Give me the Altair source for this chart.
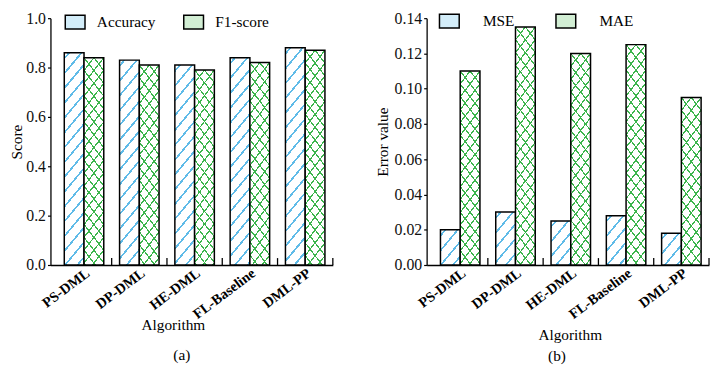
import math
import altair as alt
import pandas as pd

# ---------------- data ----------------
algorithms = ["PS-DML", "DP-DML", "HE-DML", "FL-Baseline", "DML-PP"]
metrics_a = ["Accuracy", "F1-score"]
accuracy = [0.86, 0.83, 0.81, 0.84, 0.88]
f1_score = [0.84, 0.81, 0.79, 0.82, 0.87]
metrics_b = ["MSE", "MAE"]
mse = [0.020, 0.030, 0.025, 0.028, 0.018]
mae = [0.110, 0.135, 0.120, 0.125, 0.095]
ticks_a = [0.0, 0.2, 0.4, 0.6, 0.8, 1.0]
ticks_b = [0.00, 0.02, 0.04, 0.06, 0.08, 0.10, 0.12, 0.14]

# ---------------- style ----------------
FONT = "Liberation Serif"
PW, PH = 286, 250
STEP = 56
BAR_W = 20
BLUE = "#5fbbe8"
GREEN = "#3bb54c"
CLEAR = "rgba(255,255,255,0)"


def hatch(W, H, m, period, lw, color, bg, direction, phase):
    """Linear gradient with hard stops that draws diagonal hatch lines."""
    H = max(H, 1.0)
    S = H + m * W
    k = S / (m * m * W * W + H * H)
    if direction == "/":
        x1, y1, x2, y2 = 0.0, 0.0, m * W * k, H * k
    else:
        x1, y1, x2, y2 = 1.0, 0.0, 1.0 - m * W * k, H * k
    sw = lw * math.sqrt(1 + m * m)
    stops = [(0.0, bg)]
    c = phase
    while c - sw / 2 < S:
        a = max(0.0, (c - sw / 2) / S)
        b = min(1.0, (c + sw / 2) / S)
        if b > 0:
            stops += [(a, bg), (a, color), (b, color), (b, bg)]
        c += period
    stops.append((1.0, bg))
    return alt.LinearGradient(
        gradient="linear",
        x1=round(x1, 5), y1=round(y1, 5), x2=round(x2, 5), y2=round(y2, 5),
        stops=[alt.GradientStop(offset=round(o, 5), color=col) for o, col in stops],
    )


def panel(metrics, series, kinds, ymax, ticks, fmt, ytitle, ytitle_pad,
          leg_x, leg_y, leg_off, leg_pad, xtitle_x, xtitle_y, cap, cap_dx, cap_off):
    rows = [
        {"alg": a, "metric": mt, "value": v}
        for mt, vals in zip(metrics, series)
        for a, v in zip(algorithms, vals)
    ]
    df = pd.DataFrame(rows)
    n = len(algorithms)
    xscale = alt.Scale(domain=algorithms, paddingInner=0,
                       paddingOuter=(PW / STEP - n) / 2, align=1)
    xaxis = alt.Axis(
        ticks=False, tickSize=0, domainColor="black", domainWidth=1.3,
        labelAngle=323, labelAlign="right", labelBaseline="top",
        labelFont=FONT, labelFontSize=14.5, labelFontWeight="bold",
        labelColor="black", labelPadding=1, labelOffset=0,
        titleFont=FONT, titleFontSize=15.5, titleFontWeight="normal",
        titleColor="black", titleX=xtitle_x, titleY=xtitle_y,
        titleBaseline="top", grid=False,
    )
    x = alt.X("alg:N", scale=xscale, axis=xaxis, title="Algorithm")
    xo = alt.XOffset("metric:N", scale=alt.Scale(domain=metrics, paddingInner=0,
                                                   paddingOuter=0.4))
    yaxis = alt.Axis(
        values=ticks, format=fmt, grid=False, tickSize=3, tickColor="black",
        domainColor="black", domainWidth=1.3, tickWidth=1.2,
        labelFont=FONT, labelFontSize=16, labelColor="#111", labelPadding=2,
        titleFont=FONT, titleFontSize=15.5, titleFontWeight="normal",
        titleColor="black", titlePadding=ytitle_pad,
    )
    y = alt.Y("value:Q", scale=alt.Scale(domain=[0, ymax], nice=False, zero=True),
              axis=yaxis, title=ytitle)

    legend = alt.Legend(
        title=None, orient="none", legendX=leg_x, legendY=leg_y, padding=0,
        direction="horizontal", symbolType="M-1,-0.7H1V0.7H-1Z", symbolSize=400,
        symbolStrokeColor="black", symbolStrokeWidth=1.5, symbolOpacity=1,
        labelFont=FONT, labelFontSize=15.5, labelColor="black",
        labelOffset=leg_off, columnPadding=leg_pad,
    )
    base = alt.Chart(df).mark_bar(strokeWidth=0).encode(
        x=x, xOffset=xo, y=y,
        color=alt.Color("metric:N",
                        scale=alt.Scale(domain=metrics, range=["#d3edf9", "#d2eed4"]),
                        legend=legend),
    )
    layers = [base]
    for mt, vals, kind in zip(metrics, series, kinds):
        for a, v in zip(algorithms, vals):
            H = v / ymax * PH
            sel = alt.Chart(df).transform_filter(
                (alt.datum.alg == a) & (alt.datum.metric == mt))
            if kind == "stripe":
                g = hatch(BAR_W, H, 1.2, 15, 1.7, BLUE, "white", "/", 6)
                layers.append(sel.mark_bar(fill=g, stroke="black", strokeWidth=1.5)
                              .encode(x=x, xOffset=xo, y=y))
            else:
                g1 = hatch(BAR_W, H, 1.3, 13, 1.2, GREEN, "white", "/", 0)
                g2 = hatch(BAR_W, H, 1.3, 13, 1.2, GREEN, CLEAR, "\\", 0)
                layers.append(sel.mark_bar(fill=g1, strokeWidth=0)
                              .encode(x=x, xOffset=xo, y=y))
                layers.append(sel.mark_bar(fill=g2, stroke="black", strokeWidth=1.5)
                              .encode(x=x, xOffset=xo, y=y))

    tick_df = pd.DataFrame({"alg": algorithms})
    rule = alt.Chart(tick_df).mark_rule(color="black", strokeWidth=1.3).encode(
        x=alt.X("alg:N", bandPosition=1, scale=xscale, axis=xaxis, title="Algorithm"),
        y=alt.value(PH), y2=alt.value(PH - 7),
    )
    layers.append(rule)
    return alt.layer(*layers).properties(
        width=PW, height=PH,
        title=alt.TitleParams(cap, orient="bottom", frame="group", dx=cap_dx,
                              offset=cap_off, font=FONT, fontSize=15.5,
                              fontWeight="normal", color="black"),
    )


left = panel(metrics_a, [accuracy, f1_score], ["stripe", "cross"], 1.0, ticks_a,
             ".1f", "Score", 1, 14, -7, 11, 25, 124, 53, "(a)", -10, 16)
right = panel(metrics_b, [mse, mae], ["stripe", "cross"], 0.14, ticks_b,
              ".2f", "Error value", 4, 12, -8, 23, 39, 145, 63, "(b)", -11, 7)

chart = (
    alt.hconcat(left, right, spacing=42)
    .resolve_scale(xOffset="independent", color="independent")
    .resolve_legend(color="independent")
    .properties(padding={"left": 2, "top": 0, "right": 0, "bottom": 0},
                background="white")
    .configure(font=FONT)
    .configure_axis(titleFontSize=15.5, labelFontSize=16)
    .configure_axisX(labelFontSize=14.5)
    .configure_legend(labelFontSize=15.5)
    .configure_title(fontSize=15.5)
    .configure_view(strokeWidth=0)
)

chart.save("out.html", embed_options={"renderer": "svg", "actions": False})
